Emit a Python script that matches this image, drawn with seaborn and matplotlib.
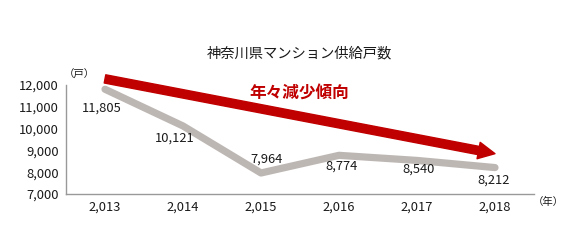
import matplotlib
matplotlib.use("Agg")
import matplotlib.pyplot as plt
import seaborn as sns
import pandas as pd

years = ["2,013", "2,014", "2,015", "2,016", "2,017", "2,018"]
supply = [11805, 10121, 7964, 8774, 8540, 8212]
value_labels = ["11,805", "10,121", "7,964", "8,774", "8,540", "8,212"]
trend_start = 12280
trend_end = 8850
y_ticks = [7000, 8000, 9000, 10000, 11000, 12000]
y_tick_labels = ["7,000", "8,000", "9,000", "10,000", "11,000", "12,000"]
title = "神奈川県マンション供給戸数"
trend_text = "年々減少傾向"
y_unit = "（戸）"
x_unit = "（年）"

# label offsets in points (style)
label_offsets = [(-2, -13.5), (-6, -9), (4, 10), (2, -8), (1, -6), (-1, -9)]

sns.set_theme(style="white")
plt.rcParams['font.family'] = ['Liberation Sans Narrow', 'Noto Sans CJK JP', 'DejaVu Sans']

df = pd.DataFrame({"pos": range(len(years)), "supply": supply})

fig = plt.figure(figsize=(5.8, 2.45), dpi=100)
ax = fig.add_axes([66/580, 51/245, (534-66)/580, (194-85)/245])

sns.lineplot(data=df, x="pos", y="supply", ax=ax, color="#bdb7b4",
             linewidth=5.2, solid_capstyle="round", solid_joinstyle="round")

for i, (v, lab) in enumerate(zip(supply, value_labels)):
    dx, dy = label_offsets[i]
    ax.annotate(lab, (i, v), xytext=(dx, dy), textcoords="offset points",
                ha="center", va="center", fontsize=9.3, color="#1a1a1a")

ax.annotate("", xy=(5, trend_end), xytext=(0, trend_start),
            arrowprops=dict(arrowstyle="simple,head_width=0.6,head_length=0.6,tail_width=0.3",
                            color="#c00000", mutation_scale=20, shrinkA=0, shrinkB=0),
            annotation_clip=False)

ax.set_xlim(-0.5, 5.5)
ax.set_ylim(7000, 12000)
ax.set_xticks(range(len(years)))
ax.set_xticklabels(years, fontsize=9.3)
ax.set_xticks([i - 0.5 for i in range(len(years) + 1)], minor=True)
ax.set_yticks(y_ticks)
ax.set_yticklabels(y_tick_labels, fontsize=9.3)
ax.tick_params(axis="x", which="major", length=0, pad=5, colors="#1a1a1a")
ax.tick_params(axis="x", which="minor", length=3, direction="inout", color="#999999", width=0.8)
ax.tick_params(axis="y", which="major", length=6.5, direction="in",
               width=0.8, pad=5, colors="#1a1a1a")
ax.tick_params(axis="y", color="#bbbbbb")
ax.set_xlabel("")
ax.set_ylabel("")
for s in ["top", "right"]:
    ax.spines[s].set_visible(False)
ax.spines["left"].set_color("#999999")
ax.spines["bottom"].set_color("#999999")
ax.spines["left"].set_linewidth(1)
ax.spines["bottom"].set_linewidth(1)

fig.text(299/580, 1 - 53/245, title, ha="center", va="center", fontsize=10.3,
         family=['Noto Sans CJK JP'], color="#1a1a1a")
fig.text(299/580, 1 - 93/245, trend_text, ha="center", va="center", fontsize=12,
         fontweight="bold", family=['Noto Sans CJK JP'], color="#c00000")
fig.text(79/580, 1 - 75/245, y_unit, ha="center", va="center", fontsize=7.5,
         family=['Noto Sans CJK JP'], color="#1a1a1a")
fig.text(548/580, 1 - 202/245, x_unit, ha="center", va="center", fontsize=7.5,
         family=['Noto Sans CJK JP'], color="#1a1a1a")

fig.savefig("out.png", dpi=100)
